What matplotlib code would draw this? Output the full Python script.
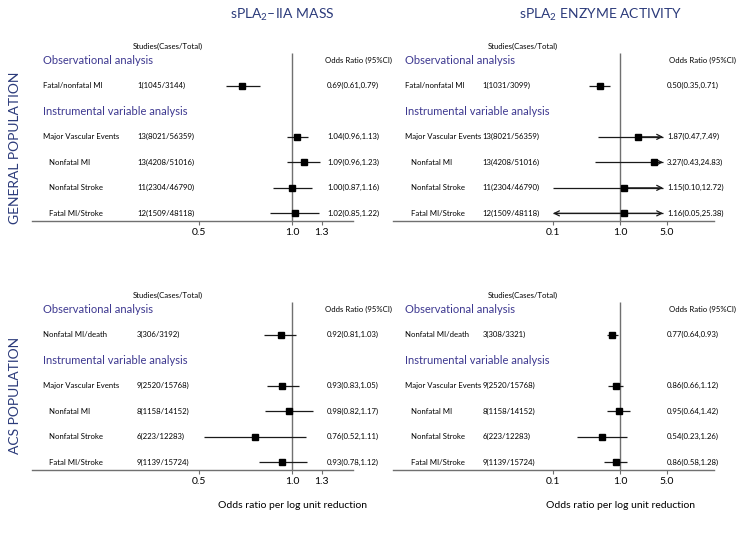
import matplotlib
matplotlib.use("Agg")
import matplotlib.pyplot as plt
import numpy as np

plt.rcParams['font.family'] = ['Lato', 'DejaVu Sans']
plt.rcParams['mathtext.fontset'] = 'custom'
plt.rcParams['mathtext.rm'] = 'Lato'
plt.rcParams['mathtext.it'] = 'Lato'

# ---------------- data ----------------
gen_labels = ['Fatal/nonfatal MI', 'Major Vascular Events', 'Nonfatal MI', 'Nonfatal Stroke', 'Fatal MI/Stroke']
acs_labels = ['Nonfatal MI/death', 'Major Vascular Events', 'Nonfatal MI', 'Nonfatal Stroke', 'Fatal MI/Stroke']

mass_gen_studies = ['1(1045/3144)', '13(8021/56359)', '13(4208/51016)', '11(2304/46790)', '12(1509/48118)']
mass_gen_or = [0.69, 1.04, 1.09, 1.00, 1.02]
mass_gen_lo = [0.61, 0.96, 0.96, 0.87, 0.85]
mass_gen_hi = [0.79, 1.13, 1.23, 1.16, 1.22]

act_gen_studies = ['1(1031/3099)', '13(8021/56359)', '13(4208/51016)', '11(2304/46790)', '12(1509/48118)']
act_gen_or = [0.50, 1.87, 3.27, 1.15, 1.16]
act_gen_lo = [0.35, 0.47, 0.43, 0.10, 0.05]
act_gen_hi = [0.71, 7.49, 24.83, 12.72, 25.38]

mass_acs_studies = ['3(306/3192)', '9(2520/15768)', '8(1158/14152)', '6(223/12283)', '9(1139/15724)']
mass_acs_or = [0.92, 0.93, 0.98, 0.76, 0.93]
mass_acs_lo = [0.81, 0.83, 0.82, 0.52, 0.78]
mass_acs_hi = [1.03, 1.05, 1.17, 1.11, 1.12]

act_acs_studies = ['3(308/3321)', '9(2520/15768)', '8(1158/14152)', '6(223/12283)', '9(1139/15724)']
act_acs_or = [0.77, 0.86, 0.95, 0.54, 0.86]
act_acs_lo = [0.64, 0.66, 0.64, 0.23, 0.58]
act_acs_hi = [0.93, 1.12, 1.42, 1.26, 1.28]

mass_ticks = [0.5, 1.0, 1.25]
mass_ticklabels = ['0.5', '1.0', '1.3']
act_ticks = [0.1, 1.0, 5.0]
act_ticklabels = ['0.1', '1.0', '5.0']

# ---------------- style ----------------
W, H = 746, 543
fig = plt.figure(figsize=(W / 100, H / 100), dpi=100)

NAVY = '#2b3a7a'
PURPLE = '#3d3890'
GRAY = '#707070'
LINE = '#1a1a1a'
FS = 5.6

row_y = [5, 3, 2, 1, 0]
indent = [False, False, True, True, True]
YLO, YHI = -0.3, 6.9
STEP = 25.5  # px per row


def px_axes(x0, x1, ybot):
    h = (YHI - YLO) * STEP
    return fig.add_axes([x0 / W, 1 - ybot / H, (x1 - x0) / W, h / H])


def panel(ax, labels, studies, orv, lo, hi, xlim, ticks, ticklabels, pos, clip=None):
    ax.set_xscale('log')
    ax.set_xlim(*xlim)
    ax.set_ylim(YLO, YHI)
    for s in ['left', 'top', 'right']:
        ax.spines[s].set_visible(False)
    ax.spines['bottom'].set_color(GRAY)
    ax.spines['bottom'].set_linewidth(1.0)
    ax.set_yticks([])
    ax.xaxis.set_minor_locator(matplotlib.ticker.NullLocator())
    ax.set_xticks(ticks)
    ax.set_xticklabels(ticklabels)
    ax.tick_params(axis='x', length=3, width=0.8, color=GRAY, labelsize=7.5, pad=2)
    ax.patch.set_alpha(0)
    ax.vlines(1.0, YLO, 6.29, color=GRAY, lw=1.0, zorder=1)

    tr = ax.get_yaxis_transform()
    xl, xi, xs, xo, xh, xoh = pos
    ax.text(xh, 6.55, 'Studies(Cases/Total)', transform=tr, ha='center', va='center', fontsize=FS)
    ax.text(xl, 6.0, 'Observational analysis', transform=tr, ha='left', va='center', fontsize=8, color=PURPLE)
    ax.text(xoh, 6.0, 'Odds Ratio (95%CI)', transform=tr, ha='left', va='center', fontsize=FS)
    ax.text(xl, 4.0, 'Instrumental variable analysis', transform=tr, ha='left', va='center', fontsize=8, color=PURPLE)

    for i, y in enumerate(row_y):
        ax.text(xi if indent[i] else xl, y, labels[i], transform=tr, ha='left', va='center', fontsize=FS)
        ax.text(xs, y, studies[i], transform=tr, ha='left', va='center', fontsize=FS)
        ax.text(xo, y, f'{orv[i]:.2f}({lo[i]:.2f},{hi[i]:.2f})', transform=tr, ha='left', va='center', fontsize=FS)
        a, b = lo[i], hi[i]
        la = ra = False
        if clip is not None:
            if a < clip[0]:
                a, la = clip[0], True
            if b > clip[1]:
                b, ra = clip[1], True
        ax.plot([a, b], [y, y], color=LINE, lw=0.9, solid_capstyle='butt', zorder=2)
        if la:
            ax.annotate('', xy=(a, y), xytext=(orv[i], y),
                        arrowprops=dict(arrowstyle='->', lw=0.9, color=LINE, shrinkA=0, shrinkB=0,
                                        mutation_scale=9))
        if ra:
            ax.annotate('', xy=(b, y), xytext=(orv[i], y),
                        arrowprops=dict(arrowstyle='->', lw=0.9, color=LINE, shrinkA=0, shrinkB=0,
                                        mutation_scale=9))
        ax.plot([orv[i]], [y], marker='s', ms=4.6, color='black', zorder=3, linestyle='none')


mass_xlim = (np.exp(-260 / 134), np.exp(61 / 134))
act_xlim = (10 ** (-227 / 67), 10 ** (94 / 67))
mass_pos = (0.034, 0.053, 0.327, 0.919, 0.424, 0.913)
act_pos = (0.037, 0.056, 0.280, 0.854, 0.405, 0.860)
act_clip = (0.1, 4.4)

ax1 = px_axes(32, 353, 221)
panel(ax1, gen_labels, mass_gen_studies, mass_gen_or, mass_gen_lo, mass_gen_hi,
      mass_xlim, mass_ticks, mass_ticklabels, mass_pos)
ax2 = px_axes(393, 714, 221)
panel(ax2, gen_labels, act_gen_studies, act_gen_or, act_gen_lo, act_gen_hi,
      act_xlim, act_ticks, act_ticklabels, act_pos, clip=act_clip)
ax3 = px_axes(32, 353, 470)
panel(ax3, acs_labels, mass_acs_studies, mass_acs_or, mass_acs_lo, mass_acs_hi,
      mass_xlim, mass_ticks, mass_ticklabels, mass_pos)
ax4 = px_axes(393, 714, 470)
panel(ax4, acs_labels, act_acs_studies, act_acs_or, act_acs_lo, act_acs_hi,
      act_xlim, act_ticks, act_ticklabels, act_pos, clip=act_clip)

for ax in (ax3, ax4):
    ax.text(1.0, -35 / ((YHI - YLO) * STEP), 'Odds ratio per log unit reduction',
            transform=ax.get_xaxis_transform(), ha='center', va='center', fontsize=7.5)

fig.text(282 / W, 1 - 15 / H, r'sPLA$_2$–IIA MASS', ha='center', va='center', fontsize=10, color=NAVY)
fig.text(601 / W, 1 - 15 / H, r'sPLA$_2$ ENZYME ACTIVITY', ha='center', va='center', fontsize=10, color=NAVY)
fig.text(15 / W, 1 - 148 / H, 'GENERAL POPULATION', rotation=90, ha='center', va='center', fontsize=10, color=NAVY)
fig.text(15 / W, 1 - 395 / H, 'ACS POPULATION', rotation=90, ha='center', va='center', fontsize=10, color=NAVY)

fig.savefig('out.png', dpi=100)
